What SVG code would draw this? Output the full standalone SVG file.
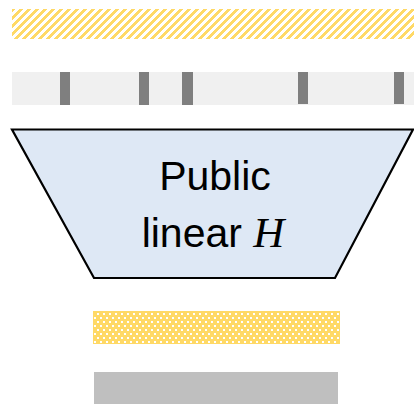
<svg xmlns="http://www.w3.org/2000/svg" width="414" height="404" viewBox="0 0 414 404">
  <style>
    .lbl { font-family: "Liberation Sans", Arial, sans-serif; font-size: 41px; fill: #000; }
    .math { font-family: "Liberation Serif", "Times New Roman", serif; font-style: italic; font-size: 43px; }
    .tick { fill: #7f7f7f; }
  </style>
  <defs>
    <!-- wide upward diagonal hatch, 8x8 tile -->
    <pattern id="hatch" width="8" height="8" patternUnits="userSpaceOnUse">
      <rect width="8" height="8" fill="#ffffff"/>
      <g fill="#ffd966" shape-rendering="crispEdges">
        <rect x="4" y="0" width="4" height="1"/>
        <rect x="3" y="1" width="4" height="1"/>
        <rect x="2" y="2" width="4" height="1"/>
        <rect x="1" y="3" width="4" height="1"/>
        <rect x="0" y="4" width="4" height="1"/>
        <rect x="7" y="5" width="1" height="1"/><rect x="0" y="5" width="3" height="1"/>
        <rect x="6" y="6" width="2" height="1"/><rect x="0" y="6" width="2" height="1"/>
        <rect x="5" y="7" width="3" height="1"/><rect x="0" y="7" width="1" height="1"/>
      </g>
    </pattern>
    <!-- staggered white dots on gold -->
    <pattern id="dots" width="6" height="8" patternUnits="userSpaceOnUse">
      <rect width="6" height="8" fill="#ffd966"/>
      <g fill="#ffffff" shape-rendering="crispEdges">
        <rect x="1" y="1" width="2" height="2"/>
        <rect x="4" y="5" width="2" height="2"/>
      </g>
    </pattern>
  </defs>

  <g id="hatched-bar">
    <rect x="12" y="9" width="402" height="30" fill="url(#hatch)"/>
  </g>

  <g id="sparse-bar">
    <rect x="12" y="72" width="402" height="33" fill="#f0f0f0"/>
    <rect class="tick" x="60" y="72" width="10" height="33"/>
    <rect class="tick" x="139" y="72" width="10" height="33"/>
    <rect class="tick" x="182" y="72" width="11" height="33"/>
    <rect class="tick" x="298" y="72" width="10" height="32"/>
    <rect class="tick" x="394" y="72" width="10" height="32"/>
  </g>

  <g id="linear-h">
    <polygon points="12,129.5 413,129.5 335,278 94,278" fill="#dee8f5" stroke="#000" stroke-width="2.2" stroke-linejoin="miter"/>
    <text class="lbl" x="215" y="190" text-anchor="middle">Public</text>
    <text class="lbl" x="213" y="247" text-anchor="middle">linear <tspan class="math">H</tspan></text>
  </g>

  <g id="dotted-bar">
    <rect x="93" y="311" width="247" height="33" fill="url(#dots)"/>
  </g>

  <g id="gray-bar">
    <rect x="94" y="372" width="244" height="32" fill="#bfbfbf"/>
  </g>
</svg>
